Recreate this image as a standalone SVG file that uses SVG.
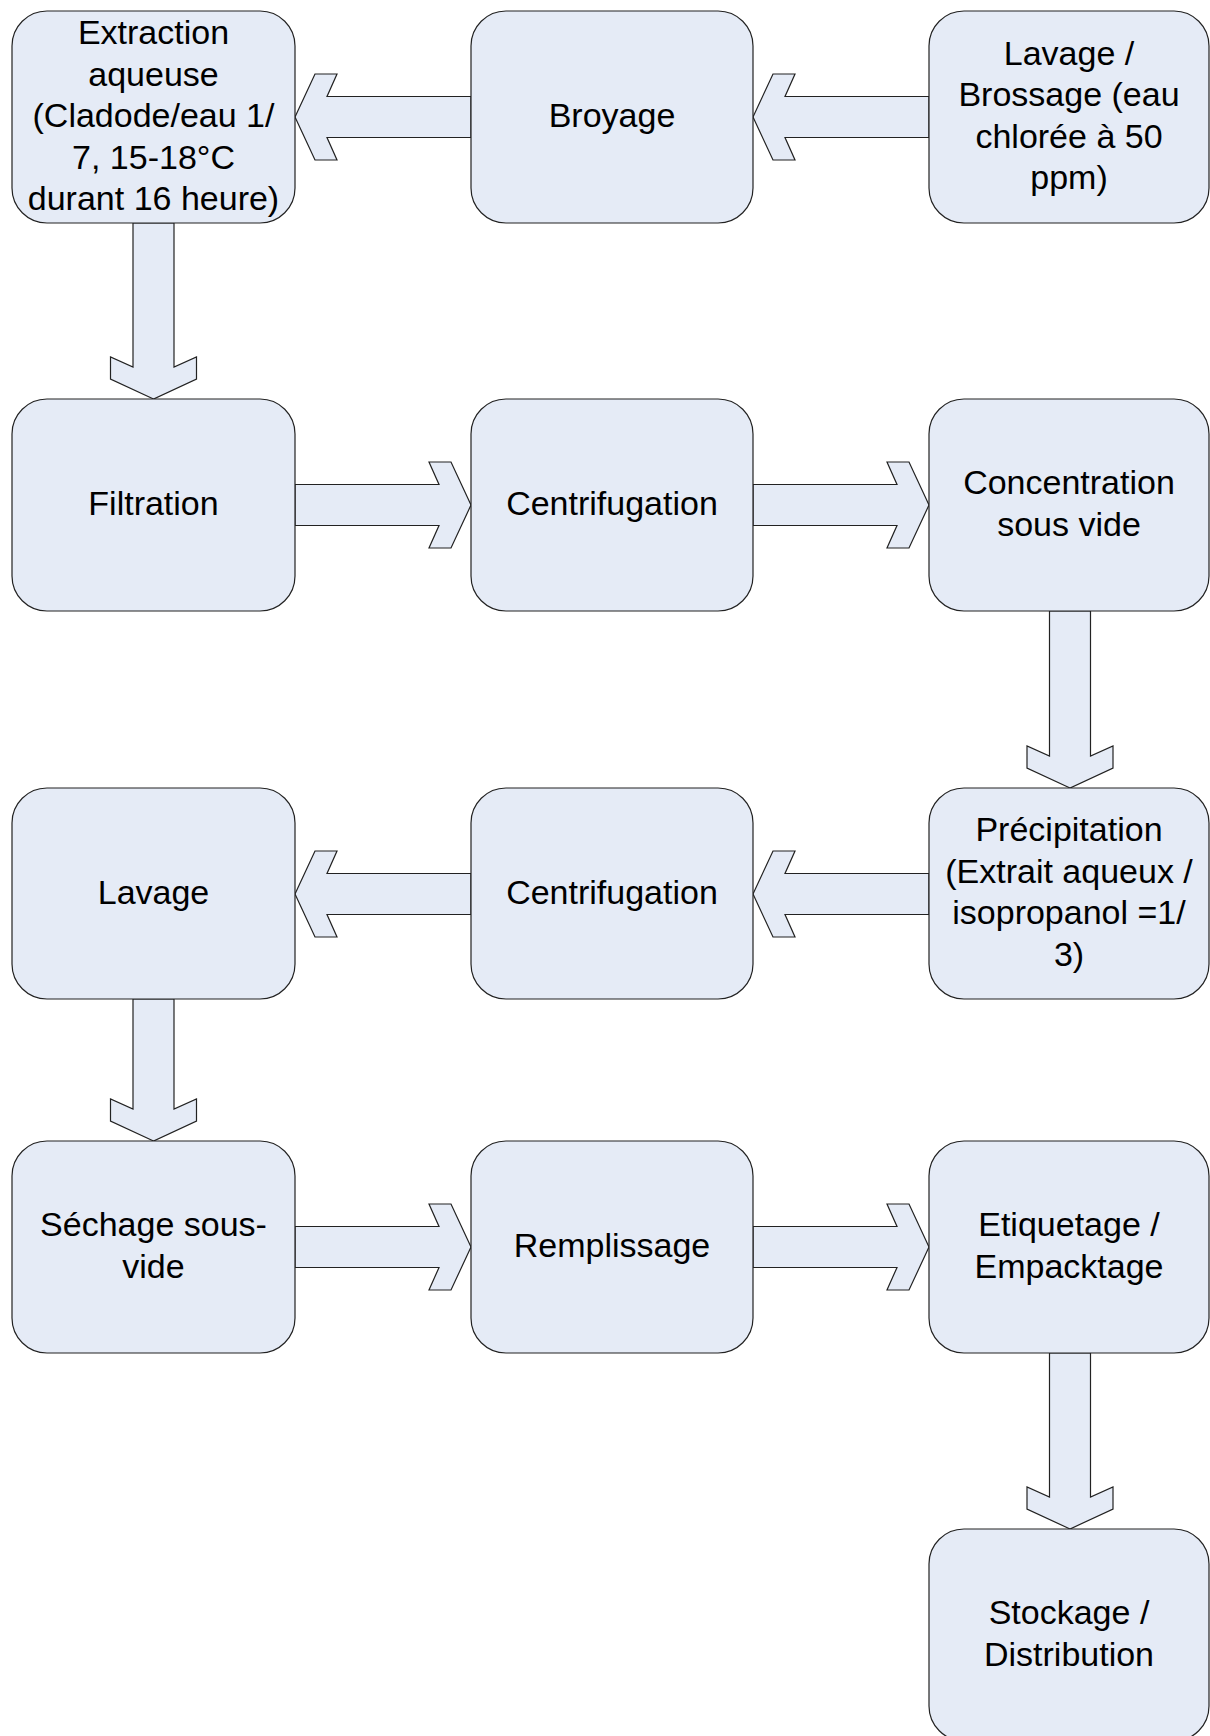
<svg xmlns="http://www.w3.org/2000/svg" width="1210" height="1736" viewBox="0 0 1210 1736">
<style>
.box{fill:#E5EBF6;stroke:#222;stroke-width:1.2}
.arr{fill:#E5EBF6;stroke:#222;stroke-width:1.2;stroke-linejoin:miter}
text{font-family:"Liberation Sans",Arial,sans-serif;font-size:34px;fill:#000;text-anchor:middle}
</style>
<rect width="1210" height="1736" fill="#fff"/>
<g id="connectors">
<path class="arr" d="M753,117 L773,74 L795,74 L785,96.5 L929,96.5 L929,137.5 L785,137.5 L795,160 L773,160 Z"/>
<path class="arr" d="M295,117 L315,74 L337,74 L327,96.5 L471,96.5 L471,137.5 L327,137.5 L337,160 L315,160 Z"/>
<path class="arr" d="M153.5,399 L110.5,379 L110.5,357 L133,367 L133,223 L174,223 L174,367 L196.5,357 L196.5,379 Z"/>
<path class="arr" d="M471,505 L451,462 L429,462 L439,484.5 L295,484.5 L295,525.5 L439,525.5 L429,548 L451,548 Z"/>
<path class="arr" d="M929,505 L909,462 L887,462 L897,484.5 L753,484.5 L753,525.5 L897,525.5 L887,548 L909,548 Z"/>
<path class="arr" d="M1070,788 L1027,768 L1027,746 L1049.5,756 L1049.5,611 L1090.5,611 L1090.5,756 L1113,746 L1113,768 Z"/>
<path class="arr" d="M753,894 L773,851 L795,851 L785,873.5 L929,873.5 L929,914.5 L785,914.5 L795,937 L773,937 Z"/>
<path class="arr" d="M295,894 L315,851 L337,851 L327,873.5 L471,873.5 L471,914.5 L327,914.5 L337,937 L315,937 Z"/>
<path class="arr" d="M153.5,1141 L110.5,1121 L110.5,1099 L133,1109 L133,999 L174,999 L174,1109 L196.5,1099 L196.5,1121 Z"/>
<path class="arr" d="M471,1247 L451,1204 L429,1204 L439,1226.5 L295,1226.5 L295,1267.5 L439,1267.5 L429,1290 L451,1290 Z"/>
<path class="arr" d="M929,1247 L909,1204 L887,1204 L897,1226.5 L753,1226.5 L753,1267.5 L897,1267.5 L887,1290 L909,1290 Z"/>
<path class="arr" d="M1070,1529 L1027,1509 L1027,1487 L1049.5,1497 L1049.5,1353 L1090.5,1353 L1090.5,1497 L1113,1487 L1113,1509 Z"/>
</g>
<g id="extraction">
<rect class="box" x="12" y="11" width="283" height="212" rx="35"/>
<text x="153.5" y="44">Extraction</text>
<text x="153.5" y="85.5">aqueuse</text>
<text x="153.5" y="127">(Cladode/eau 1/</text>
<text x="153.5" y="168.5">7, 15-18°C</text>
<text x="153.5" y="210">durant 16 heure)</text>
</g>
<g id="broyage">
<rect class="box" x="471" y="11" width="282" height="212" rx="35"/>
<text x="612" y="127">Broyage</text>
</g>
<g id="lavage-brossage">
<rect class="box" x="929" y="11" width="280" height="212" rx="35"/>
<text x="1069" y="64.75">Lavage /</text>
<text x="1069" y="106.25">Brossage (eau</text>
<text x="1069" y="147.75">chlorée à 50</text>
<text x="1069" y="189.25">ppm)</text>
</g>
<g id="filtration">
<rect class="box" x="12" y="399" width="283" height="212" rx="35"/>
<text x="153.5" y="515">Filtration</text>
</g>
<g id="centrifugation1">
<rect class="box" x="471" y="399" width="282" height="212" rx="35"/>
<text x="612" y="515">Centrifugation</text>
</g>
<g id="concentration">
<rect class="box" x="929" y="399" width="280" height="212" rx="35"/>
<text x="1069" y="494.25">Concentration</text>
<text x="1069" y="535.75">sous vide</text>
</g>
<g id="lavage">
<rect class="box" x="12" y="788" width="283" height="211" rx="35"/>
<text x="153.5" y="903.5">Lavage</text>
</g>
<g id="centrifugation2">
<rect class="box" x="471" y="788" width="282" height="211" rx="35"/>
<text x="612" y="903.5">Centrifugation</text>
</g>
<g id="precipitation">
<rect class="box" x="929" y="788" width="280" height="211" rx="35"/>
<text x="1069" y="841.25">Précipitation</text>
<text x="1069" y="882.75">(Extrait aqueux /</text>
<text x="1069" y="924.25">isopropanol =1/</text>
<text x="1069" y="965.75">3)</text>
</g>
<g id="sechage">
<rect class="box" x="12" y="1141" width="283" height="212" rx="35"/>
<text x="153.5" y="1236.25">Séchage sous-</text>
<text x="153.5" y="1277.75">vide</text>
</g>
<g id="remplissage">
<rect class="box" x="471" y="1141" width="282" height="212" rx="35"/>
<text x="612" y="1257">Remplissage</text>
</g>
<g id="etiquetage">
<rect class="box" x="929" y="1141" width="280" height="212" rx="35"/>
<text x="1069" y="1236.25">Etiquetage /</text>
<text x="1069" y="1277.75">Empacktage</text>
</g>
<g id="stockage">
<rect class="box" x="929" y="1529" width="280" height="212" rx="35"/>
<text x="1069" y="1624.25">Stockage /</text>
<text x="1069" y="1665.75">Distribution</text>
</g>
</svg>
